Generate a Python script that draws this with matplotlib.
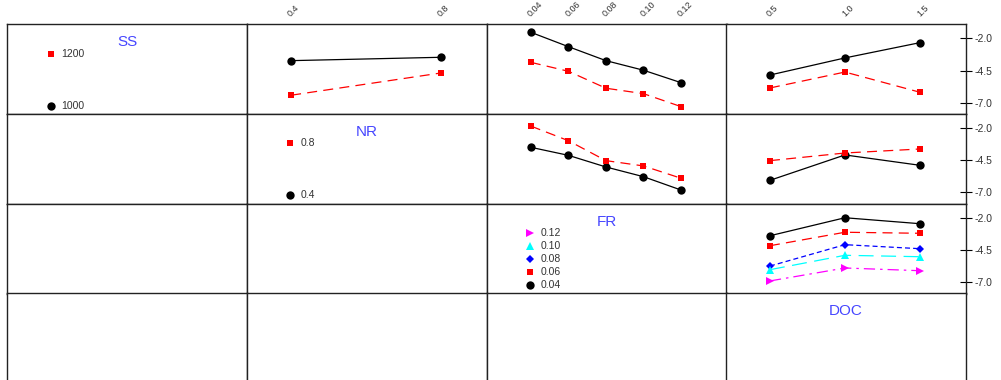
import matplotlib
matplotlib.use("Agg")
import matplotlib.pyplot as plt

plt.rcParams['font.family'] = ['Liberation Sans', 'DejaVu Sans']

# factors and levels
factors = ['SS', 'NR', 'FR', 'DOC']
ss_levels = ['1000', '1200']
nr_levels = [0.4, 0.8]
fr_levels = [0.04, 0.06, 0.08, 0.10, 0.12]
doc_levels = [0.5, 1.0, 1.5]

nr_ticks = ['0.4', '0.8']
fr_ticks = ['0.04', '0.06', '0.08', '0.10', '0.12']
doc_ticks = ['0.5', '1.0', '1.5']
y_ticks = [-2.0, -4.5, -7.0]

# row SS: one line per SS level
ss1000_nr = [-3.73, -3.47]
ss1200_nr = [-6.40, -4.68]
ss1000_fr = [-1.54, -2.65, -3.73, -4.47, -5.43]
ss1200_fr = [-3.86, -4.55, -5.86, -6.28, -7.28]
ss1000_doc = [-4.84, -3.52, -2.34]
ss1200_doc = [-5.84, -4.61, -6.17]

# row NR
nr04_fr = [-3.51, -4.13, -5.03, -5.78, -6.81]
nr08_fr = [-1.87, -3.00, -4.54, -4.95, -5.90]
nr04_doc = [-6.06, -4.10, -4.90]
nr08_doc = [-4.54, -3.95, -3.64]

# row FR
fr004_doc = [-3.39, -2.00, -2.46]
fr006_doc = [-4.16, -3.12, -3.20]
fr008_doc = [-5.73, -4.08, -4.39]
fr010_doc = [-6.01, -4.90, -5.01]
fr012_doc = [-6.88, -5.88, -6.09]

# level styles (colour, marker, linestyle, markersize)
styles = [
    ('black', 'o', '-', 6),
    ('red', 's', (0, (8, 5)), 4.5),
    ('blue', 'D', (0, (4, 2.5)), 4),
    ('cyan', '^', (0, (12, 6)), 5.5),
    ('magenta', '>', (0, (9, 4, 2, 4)), 5.5),
]

W, H = 1001, 380
fig = plt.figure(figsize=(W / 100, H / 100), dpi=100)

col_x = [7, 246.5, 486.5, 726]
col_w = 240
row_y = [24, 113.5, 203.5, 293]
row_h = 90
ylim = (-7.85, -0.9)

xinfo = {
    1: (nr_levels, nr_ticks, (0.281, 0.921)),
    2: (fr_levels, fr_ticks, (0.0164, 0.1442)),
    3: (doc_levels, doc_ticks, (0.207, 1.807)),
}

lines = {
    (0, 1): [ss1000_nr, ss1200_nr],
    (0, 2): [ss1000_fr, ss1200_fr],
    (0, 3): [ss1000_doc, ss1200_doc],
    (1, 2): [nr04_fr, nr08_fr],
    (1, 3): [nr04_doc, nr08_doc],
    (2, 3): [fr004_doc, fr006_doc, fr008_doc, fr010_doc, fr012_doc],
}

legend_labels = {
    0: ss_levels,
    1: [str(v) for v in nr_levels],
    2: fr_ticks,
    3: [],
}

title_color = '#4646ff'
text_color = '#333333'

for r in range(4):
    for c in range(4):
        left = col_x[c] / W
        bottom = 1 - (row_y[r] + row_h) / H
        ax = fig.add_axes([left, bottom, col_w / W, row_h / H])
        ax.set_ylim(*ylim)
        for sp in ax.spines.values():
            sp.set_color('#222222')
            sp.set_linewidth(1.0)
        ax.set_xticks([])
        ax.set_yticks([])

        if c in xinfo:
            ax.set_xlim(*xinfo[c][2])

        if (r, c) in lines:
            xs = xinfo[c][0]
            for i, ys in enumerate(lines[(r, c)]):
                col, mk, ls, ms = styles[i]
                ax.plot(xs, ys, color=col, linestyle=ls, linewidth=0.9,
                        marker=mk, markersize=ms, markeredgewidth=0)

        if r == c:
            ax.set_xlim(0, 1)
            ax.text(0.5, 1 - 18 / row_h, factors[r], transform=ax.transAxes,
                    ha='center', va='center', fontsize=11, color=title_color)
            labs = legend_labels[r]
            n = len(labs)
            for i, lab in enumerate(labs):
                k = n - 1 - i
                yy = 0.672 - (0.672 - 0.094) * i / (n - 1) if n > 1 else 0.672
                col, mk, ls, ms = styles[k]
                ax.plot([0.183], [yy], transform=ax.transAxes, color=col,
                        marker=mk, markersize=ms, markeredgewidth=0,
                        linestyle='none')
                ax.text(0.225, yy, labs[k], transform=ax.transAxes,
                        ha='left', va='center', fontsize=7.5, color=text_color)

        # top tick labels
        if r == 0 and c in xinfo:
            for xv, xl in zip(xinfo[c][0], xinfo[c][1]):
                ax.annotate(xl, xy=(xv, 1), xycoords=('data', 'axes fraction'),
                            xytext=(1, 4), textcoords='offset points',
                            rotation=45, ha='left', va='bottom',
                            rotation_mode='anchor', fontsize=6.5,
                            color=text_color)

        # right tick labels
        if c == 3 and r < 3:
            ax.yaxis.tick_right()
            ax.set_yticks(y_ticks)
            ax.set_yticklabels(['%.1f' % v for v in y_ticks])
            ax.tick_params(axis='y', direction='inout', length=8, width=0.8,
                           pad=2, labelsize=7.5, labelcolor=text_color)

fig.savefig('out.png', dpi=100)
